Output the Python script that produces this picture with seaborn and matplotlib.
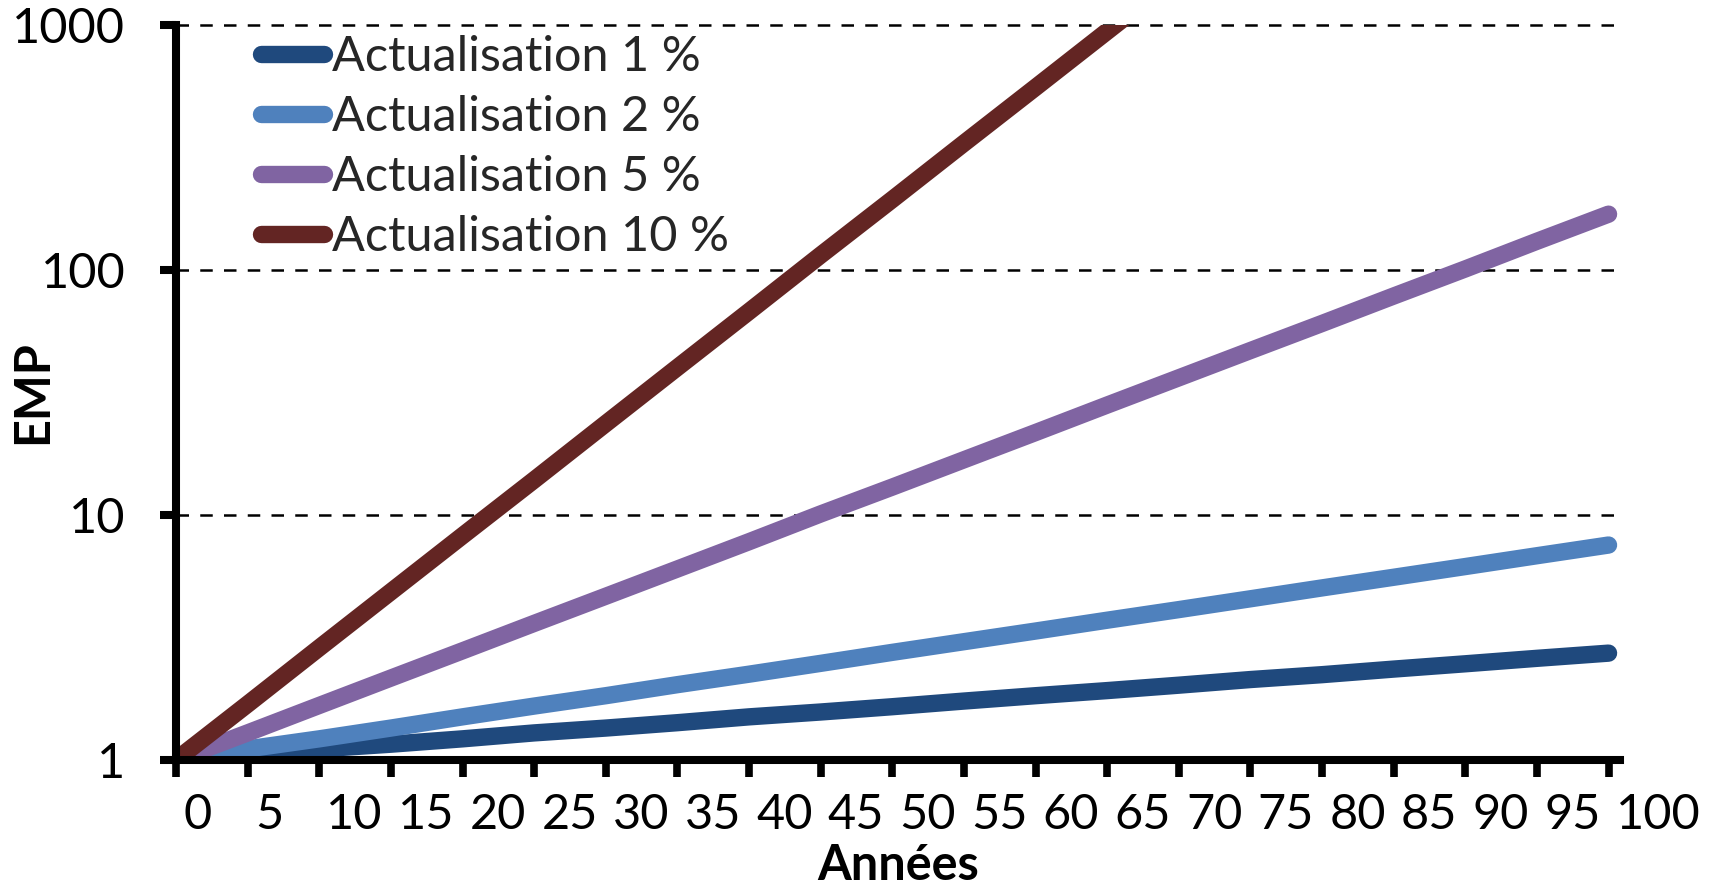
import matplotlib
matplotlib.use("Agg")
import matplotlib.pyplot as plt
import pandas as pd
import seaborn as sns
from matplotlib.lines import Line2D
from matplotlib.ticker import FixedLocator, NullLocator

# Years on the horizontal axis
years = [0, 5, 10, 15, 20, 25, 30, 35, 40, 45, 50,
         55, 60, 65, 70, 75, 80, 85, 90, 95, 100]

# EMP values for each discount rate
emp_1 = [1.00, 1.05, 1.11, 1.16, 1.22, 1.29, 1.35, 1.42, 1.50, 1.57, 1.65,
         1.74, 1.83, 1.92, 2.02, 2.13, 2.23, 2.35, 2.47, 2.60, 2.73]
emp_2 = [1.00, 1.11, 1.22, 1.35, 1.50, 1.66, 1.83, 2.03, 2.24, 2.48, 2.75,
         3.04, 3.36, 3.72, 4.11, 4.55, 5.04, 5.57, 6.16, 6.82, 7.54]
emp_5 = [1.00, 1.29, 1.67, 2.16, 2.79, 3.61, 4.66, 6.02, 7.78, 10.1, 13.0,
         16.8, 21.7, 28.1, 36.3, 46.9, 60.5, 78.3, 101, 131, 169]
# the 10 % series leaves the chart at the top, so it stops at 70 years
years_10 = [0, 5, 10, 15, 20, 25, 30, 35, 40, 45, 50, 55, 60, 65, 70]
emp_10 = [1.00, 1.69, 2.87, 4.86, 8.23, 13.9, 23.6, 40.0, 67.7, 115, 194,
          329, 556, 942, 1596]

series_labels = ["Actualisation 1 %", "Actualisation 2 %",
                 "Actualisation 5 %", "Actualisation 10 %"]
series_colors = ["#1F497D", "#4F81BD", "#8064A2", "#632523"]

y_ticks = [1, 10, 100, 1000]
y_tick_labels = ["1", "10", "100", "1000"]
x_ticks = years
x_tick_labels = [str(v) for v in x_ticks]

frames = [
    pd.DataFrame({"Années": years, "EMP": emp_1, "Série": series_labels[0]}),
    pd.DataFrame({"Années": years, "EMP": emp_2, "Série": series_labels[1]}),
    pd.DataFrame({"Années": years, "EMP": emp_5, "Série": series_labels[2]}),
    pd.DataFrame({"Années": years_10, "EMP": emp_10, "Série": series_labels[3]}),
]
df = pd.concat(frames, ignore_index=True)

sns.set_theme(style="white")
plt.rcParams["font.family"] = ["Lato", "DejaVu Sans"]

FS = 35
LW = 12.5

W, H = 1709, 886
fig = plt.figure(figsize=(W / 100, H / 100), dpi=100)
ax = fig.add_axes([176 / W, 1 - 760 / H, (1620 - 176) / W, (760 - 25) / H])

sns.lineplot(data=df, x="Années", y="EMP", hue="Série", hue_order=series_labels,
             palette=series_colors, linewidth=LW, solid_capstyle="round",
             estimator=None, sort=False, legend=False, ax=ax, zorder=3)

ax.set_yscale("log")
ax.set_ylim(1, 1000)
ax.set_xlim(0, 100.8)

# y axis: decades only, with dashed horizontal grid
ax.yaxis.set_major_locator(FixedLocator(y_ticks))
ax.yaxis.set_minor_locator(NullLocator())
ax.set_yticks(y_ticks, labels=y_tick_labels)
ax.yaxis.grid(True, which="major", color="black", linewidth=1.8,
              linestyle=(0, (5, 4.5)))
for gl in ax.get_ygridlines():
    gl.set_clip_on(False)
ax.xaxis.grid(False)
ax.set_axisbelow(True)

# x axis: tick marks every 5 years, labels set just right of each mark
ax.set_xticks(x_ticks, labels=[""] * len(x_ticks))
ax.set_xticks([v + 0.5 for v in x_ticks], labels=x_tick_labels, minor=True)
for lbl in ax.get_xticklabels(minor=True):
    lbl.set_horizontalalignment("left")

ax.tick_params(axis="y", which="major", direction="out", length=11.5,
               width=5.8, color="black", pad=25, labelsize=FS,
               labelcolor="black", left=True)
ax.tick_params(axis="x", which="major", direction="out", length=12,
               width=5.5, color="black", bottom=True)
ax.tick_params(axis="x", which="minor", length=0, pad=24, labelsize=FS,
               labelcolor="black", bottom=True)

for side in ("top", "right"):
    ax.spines[side].set_visible(False)
for side in ("left", "bottom"):
    ax.spines[side].set_color("black")
    ax.spines[side].set_linewidth(5.8)
    ax.spines[side].set_zorder(5)

ax.set_xlabel("Années", fontsize=FS, fontweight="bold", color="black",
              va="center")
ax.xaxis.set_label_coords(0.5, -0.144)
ax.set_ylabel("EMP", fontsize=FS, fontweight="bold", color="black",
              va="center")
ax.yaxis.set_label_coords(-0.099, 0.5)

handles = [Line2D([], [], color=c, linewidth=LW, solid_capstyle="round")
           for c in series_colors]
ax.legend(handles, series_labels, loc="upper left",
          bbox_to_anchor=(0.059, 0.987), frameon=False, fontsize=FS,
          handlelength=1.3, handletextpad=0.15, labelspacing=0.33,
          borderpad=0, borderaxespad=0)

fig.savefig("out.png", dpi=100)
